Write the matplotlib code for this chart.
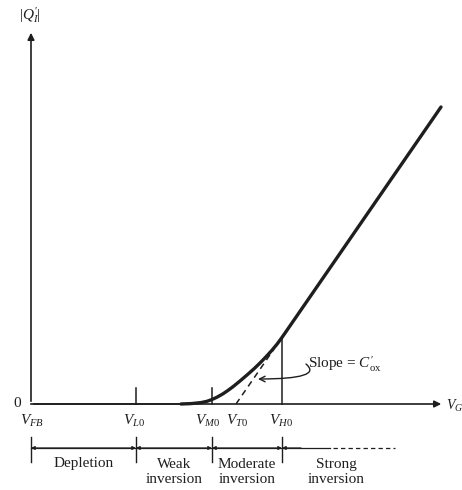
import numpy as np
import matplotlib.pyplot as plt

plt.rcParams['font.family'] = 'Liberation Serif'
plt.rcParams['mathtext.fontset'] = 'custom'
plt.rcParams['mathtext.rm'] = 'Liberation Serif'
plt.rcParams['mathtext.it'] = 'Liberation Serif:italic'

# characteristic gate voltages (arbitrary units, V_FB at 0)
v_names = [r'$V_{FB}$', r'$V_{L0}$', r'$V_{M0}$', r'$V_{T0}$', r'$V_{H0}$']
v_pos = [0.0, 10.5, 18.1, 20.5, 25.1]

# |Q'_I| vs V_GB
curve_x = [15.0, 16.0, 17.0, 17.6, 18.1, 18.6, 19.2, 19.7, 20.2, 20.9, 21.6,
           22.3, 22.9, 23.5, 24.1, 24.6, 25.1, 25.6, 26.2, 41.0]
curve_y = [0.0, 0.04, 0.14, 0.27, 0.45, 0.68, 1.02, 1.36, 1.73, 2.3, 2.9,
           3.52, 4.1, 4.72, 5.38, 5.98, 6.66, 7.38, 8.25, 29.7]

# extrapolated strong-inversion line (dashed)
tangent_x = [20.5, 24.3]
tangent_y = [0.0, 5.5]

# regions
region_edges = [0.0, 10.5, 18.1, 25.1]
region_names = ['Depletion', 'Weak\ninversion', 'Moderate\ninversion', 'Strong\ninversion']
region_centers = [5.3, 14.3, 21.6, 30.5]

ink = '#1e1e1e'

fig = plt.figure(figsize=(4.62, 4.9), dpi=100)
ax = fig.add_axes([0, 0, 1, 1])
ax.set_xlim(-3.1, 43.1)
ax.set_ylim(-8.6, 40.4)
ax.axis('off')

# axes with arrows
ax.annotate('', xy=(41.3, 0), xytext=(0, 0),
            arrowprops=dict(arrowstyle='-|>', color=ink, lw=1.2, mutation_scale=10))
ax.annotate('', xy=(0, 37.4), xytext=(0, 0),
            arrowprops=dict(arrowstyle='-|>', color=ink, lw=1.2, mutation_scale=10))
ax.text(-0.1, 38.9, r"$|Q_I'|$", ha='center', va='center', fontsize=11, color=ink)
ax.text(41.45, -0.2, r'$V_G$', ha='left', va='center', fontsize=10, color=ink)
ax.text(-1.4, 0.1, '0', ha='center', va='center', fontsize=11, color=ink)

# curve
ax.plot([0, curve_x[0]], [0, 0], color=ink, lw=1.2)
ax.plot(curve_x, curve_y, color=ink, lw=2.4, solid_capstyle='round',
        solid_joinstyle='round')
ax.plot(tangent_x, tangent_y, color=ink, lw=1.1, ls=(0, (4, 3)))

# ticks at V_L0 and V_M0, vertical line at V_H0
for v in [v_pos[1], v_pos[2]]:
    ax.plot([v, v], [0, 1.6], color=ink, lw=1.1)
ax.plot([v_pos[4], v_pos[4]], [0, 6.6], color=ink, lw=1.1)

label_x = [0.1, 10.3, 17.7, 20.6, 25.0]
for name, lx in zip(v_names, label_x):
    ax.text(lx, -1.7, name, ha='center', va='center', fontsize=11, color=ink)

# region bar
ax.plot([0, 29.9], [-4.4, -4.4], color=ink, lw=0.9)
ax.plot([30.2, 36.4], [-4.4, -4.4], color=ink, lw=0.9, ls=(0, (3.5, 2.5)))
for e in region_edges:
    ax.plot([e, e], [-3.3, -5.8], color=ink, lw=1.0)
for a, b in zip(region_edges[:-1], region_edges[1:]):
    ax.annotate('', xy=(a, -4.4), xytext=(b, -4.4),
                arrowprops=dict(arrowstyle='<|-|>', color=ink, lw=0.9,
                                mutation_scale=5, shrinkA=0, shrinkB=0))
ax.annotate('', xy=(region_edges[-1], -4.4), xytext=(27.0, -4.4),
            arrowprops=dict(arrowstyle='-|>', color=ink, lw=0.9,
                            mutation_scale=5, shrinkA=0, shrinkB=0))
for name, cx in zip(region_names, region_centers):
    y = -5.9 if '\n' not in name else -6.8
    ax.text(cx, y, name, ha='center', va='center', fontsize=11, color=ink,
            linespacing=1.25)

# slope annotation
ax.text(27.7, 4.0, r"Slope = $C_{\mathrm{ox}}'$", ha='left', va='center',
        fontsize=11, color=ink)
ax.annotate('', xy=(22.7, 2.5), xytext=(27.5, 4.0),
            arrowprops=dict(arrowstyle='->', color=ink, lw=1.0,
                            connectionstyle='angle3,angleA=-40,angleB=0',
                            shrinkA=0, shrinkB=0))

fig.savefig('out.png', dpi=100)
